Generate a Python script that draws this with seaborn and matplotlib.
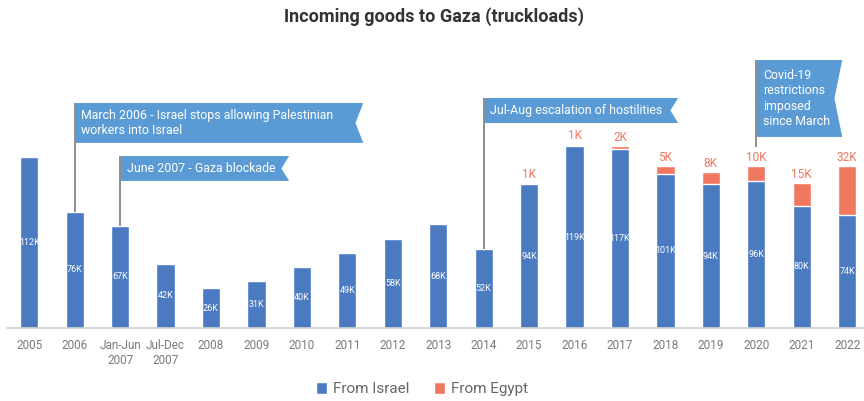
import matplotlib
matplotlib.use("Agg")
import matplotlib.pyplot as plt
from matplotlib.patches import Polygon, Patch
import seaborn as sns
import pandas as pd

categories = ["2005", "2006", "Jan-Jun\n2007", "Jul-Dec\n2007", "2008", "2009", "2010",
              "2011", "2012", "2013", "2014", "2015", "2016", "2017", "2018", "2019",
              "2020", "2021", "2022"]
from_israel = [112, 76, 67, 42, 26, 31, 40, 49, 58, 68, 52, 94, 119, 117, 101, 94, 96, 80, 74]
from_egypt = [0, 0, 0, 0, 0, 0, 0, 0, 0, 0, 0, 1, 1, 2, 5, 8, 10, 15, 32]

# annotations: (category index, text, box top, box bottom, box right) in data units
ann_idx = [1, 2, 10, 16]
ann_text = ["March 2006 - Israel stops allowing Palestinian\nworkers into Israel",
            "June 2007 - Gaza blockade",
            "Jul-Aug escalation of hostilities",
            "Covid-19\nrestrictions\nimposed\nsince March"]
ann_top = [147.3, 112.6, 150.6, 175.5]
ann_bottom = [121.2, 96.3, 134.2, 125.1]
ann_right = [7.35, 5.72, 14.28, 17.89]

BLUE = "#4A7BC0"
ORANGE = "#F07860"
FLAG = "#5B9BD5"

sns.set_theme(style="white")
plt.rcParams["font.family"] = ["Roboto", "DejaVu Sans"]

df = pd.DataFrame({"cat": pd.Categorical(categories, categories=categories, ordered=True),
                   "israel": from_israel, "egypt": from_egypt})
df["total"] = df["israel"] + df["egypt"]

fig = plt.figure(figsize=(8.64, 4.01), dpi=100)
ax = fig.add_axes([6.5 / 864, (401 - 328) / 401, (864 - 6.5) / 864, (328 - 45) / 401])

sns.barplot(data=df, x="cat", y="total", color=ORANGE, width=0.4, ax=ax,
            saturation=1, order=categories)
sns.barplot(data=df, x="cat", y="israel", color=BLUE, width=0.4, ax=ax,
            saturation=1, order=categories)

ax.set_xlim(-0.5, 18.37)
ax.set_ylim(0, 185.3)
ax.set_xlabel("")
ax.set_ylabel("")
ax.set_yticks([])
for s in ["top", "left", "right"]:
    ax.spines[s].set_visible(False)
ax.spines["bottom"].set_color("#cfcfcf")
ax.spines["bottom"].set_linewidth(1.2)
ax.tick_params(axis="x", length=0, pad=8, labelsize=8.5, labelcolor="#7a7a7a")
ax.set_xticks(range(len(categories)))
ax.set_xticklabels(categories, linespacing=1.2)

for i, (v, e) in enumerate(zip(from_israel, from_egypt)):
    ax.text(i, v / 2, f"{v}K", ha="center", va="center", color="white",
            fontsize=6.5, fontstretch="condensed")
    if e > 0:
        ax.text(i, v + e + 1.5, f"{e}K", ha="center", va="bottom", color=ORANGE,
                fontsize=8.5)

notch = 0.17
for idx, txt, top, bot, right in zip(ann_idx, ann_text, ann_top, ann_bottom, ann_right):
    bar_top = from_israel[idx] + from_egypt[idx]
    pole_end = bar_top + (12.5 if from_egypt[idx] > 0 else 0)
    ax.plot([idx, idx], [pole_end, top], color="#8f8f8f", lw=1.4, zorder=5,
            clip_on=False, solid_capstyle="butt")
    mid = (top + bot) / 2
    poly = Polygon([(idx, bot), (idx, top), (right, top), (right - notch, mid),
                    (right, bot)], closed=True, facecolor=FLAG, edgecolor="none",
                   zorder=4, clip_on=False)
    ax.add_patch(poly)
    ax.text(idx + 0.15, mid, txt, ha="left", va="center", color="white",
            fontsize=8.9, linespacing=1.25, zorder=6, clip_on=False)

fig.text(0.5 + 2 / 864, 1 - 17 / 401, "Incoming goods to Gaza (truckloads)", ha="center",
         va="center", fontsize=13, fontweight="bold", color="#333333")

handles = [Patch(facecolor=BLUE, label="From Israel"),
           Patch(facecolor=ORANGE, label="From Egypt")]
fig.legend(handles=handles, loc="center", bbox_to_anchor=(0.5 - 10 / 864, 1 - 389 / 401),
           ncol=2, frameon=False, fontsize=11, labelcolor="#666666",
           handlelength=0.7, handleheight=0.9, handletextpad=0.4, columnspacing=1.6)

fig.savefig("out.png", dpi=100)
